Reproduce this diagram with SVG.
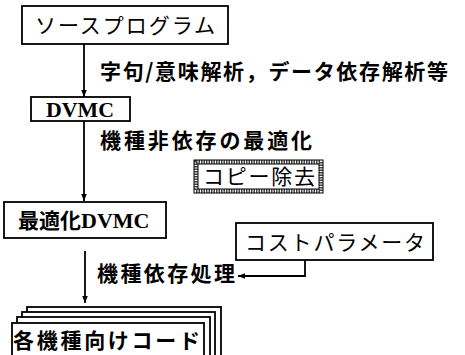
<svg xmlns="http://www.w3.org/2000/svg" width="465" height="355" viewBox="0 0 465 355">
<defs>
<style>
.box{fill:#fff;stroke:#000;stroke-width:1.8}
.t{font-family:"Noto Sans CJK JP","Noto Sans",sans-serif;font-size:21px;fill:#000}
.b{font-weight:700}
.s{font-family:"Liberation Serif",serif;font-weight:700}
.ln{stroke:#000;stroke-width:1.8;fill:none}
</style>
<marker id="ah" viewBox="0 0 10 10" refX="10" refY="5" markerWidth="7" markerHeight="7" markerUnits="userSpaceOnUse" orient="auto">
<path d="M0,1 L10,5 L0,9 Z" fill="#000"/>
</marker>
</defs>
<rect width="465" height="355" fill="#fff"/>
<g id="connectors">
<line class="ln" x1="84" y1="44" x2="84" y2="97" marker-end="url(#ah)"/>
<line class="ln" x1="84" y1="121" x2="84" y2="201" marker-end="url(#ah)"/>
<line class="ln" x1="85" y1="251" x2="85" y2="303" marker-end="url(#ah)"/>
<polyline class="ln" points="305,260 305,276 238,276" marker-end="url(#ah)"/>
</g>
<g id="source">
<rect class="box" x="22" y="6" width="206" height="38"/>
<text class="t" x="35" y="33" textLength="180" lengthAdjust="spacing">ソースプログラム</text>
</g>
<g id="label1">
<text class="t b" x="100" y="79" textLength="348" lengthAdjust="spacing">字句/意味解析，データ依存解析等</text>
</g>
<g id="dvmc">
<rect class="box" x="31" y="97" width="99" height="24"/>
<text class="s" x="80" y="117" font-size="22" text-anchor="middle" textLength="68" lengthAdjust="spacingAndGlyphs">DVMC</text>
</g>
<g id="label2">
<text class="t b" x="100" y="148" textLength="212" lengthAdjust="spacing">機種非依存の最適化</text>
</g>
<g id="copy">
<rect x="196" y="162" width="125" height="29" fill="#fff" stroke="#444" stroke-width="4" stroke-dasharray="1.5 1"/>
<rect x="194" y="160" width="129" height="33" fill="none" stroke="#000" stroke-width="1"/>
<rect x="198" y="164" width="121" height="25" fill="#fff" stroke="#000" stroke-width="1"/>
<text class="t" x="203" y="184" textLength="112" lengthAdjust="spacing">コピー除去</text>
</g>
<g id="optdvmc">
<rect class="box" x="4" y="202" width="162" height="36"/>
<text class="t b" x="18" y="228">最適化<tspan class="s" font-size="22">DVMC</tspan></text>
</g>
<g id="cost">
<rect class="box" x="236" y="223" width="197" height="37"/>
<text class="t" x="245" y="250" textLength="180" lengthAdjust="spacing">コストパラメータ</text>
</g>
<g id="label3">
<text class="t b" x="97" y="281" textLength="138" lengthAdjust="spacing">機種依存処理</text>
</g>
<g id="codes">
<rect class="box" x="27" y="307" width="194" height="60"/>
<rect class="box" x="22" y="312" width="193" height="60"/>
<rect class="box" x="17" y="317" width="193" height="60"/>
<rect class="box" x="12" y="323" width="192" height="60"/>
<text class="t b" x="13" y="348" textLength="187" lengthAdjust="spacing">各機種向けコード</text>
</g>
</svg>
